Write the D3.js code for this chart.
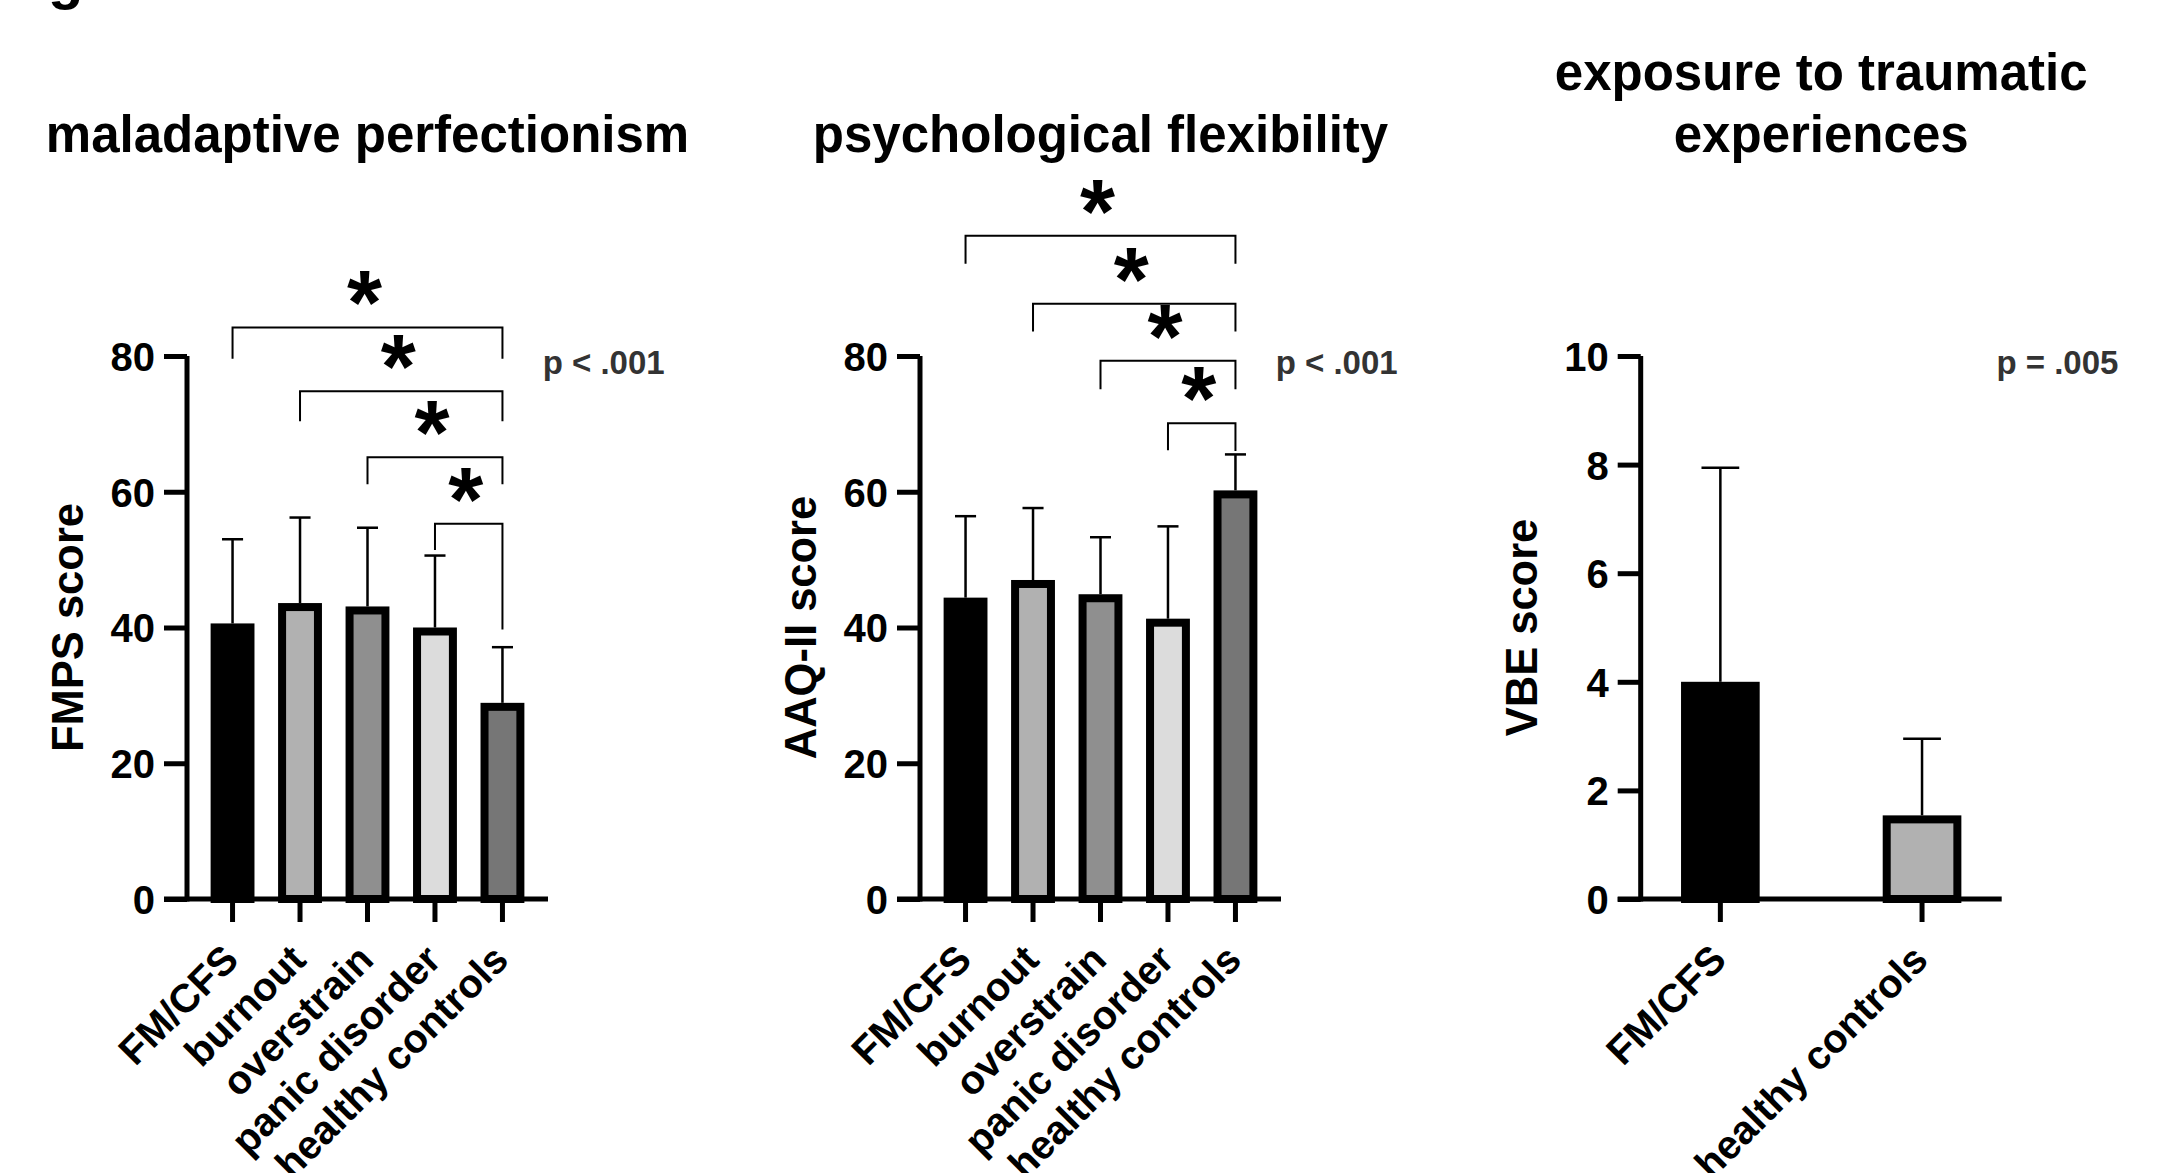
<!DOCTYPE html>
<html>
<head>
<meta charset="utf-8">
<script src="https://cdn.jsdelivr.net/npm/d3@7"></script>
<style>
  body { margin: 0; background: #fff; }
  svg { display: block; background: #fff; }
  text { font-family: "Liberation Sans", Arial, Helvetica, sans-serif; font-weight: bold; }
</style>
</head>
<body>
<svg id="chart" width="2166" height="1173"></svg>
<script>
//Group names
var groups5 = ["FM/CFS", "burnout", "overstrain", "panic disorder", "healthy controls"];
var groups2 = ["FM/CFS", "healthy controls"];

//Maladaptive perfectionism (FMPS), mean and SD
var fmpsMean = [40.6, 43.6, 43.1, 40.0, 28.9];
var fmpsSD = [12.4, 12.6, 11.6, 10.6, 8.2];
var fmpsTicks = [0, 20, 40, 60, 80];
//Significance brackets: pair, level, where each leg ends
var fmpsPairs = [[0, 4], [1, 4], [2, 4], [3, 4]];
var fmpsLevels = [84.2, 74.8, 65.1, 55.3];
var fmpsLegEnds = [[79.6, 79.6], [70.4, 70.4], [61.1, 61.1], [51.4, 39.7]];

//Psychological flexibility (AAQ-II)
var aaqMean = [44.4, 47.0, 44.9, 41.3, 60.2];
var aaqSD = [12.0, 10.6, 8.4, 13.6, 5.3];
var aaqTicks = [0, 20, 40, 60, 80];
var aaqPairs = [[0, 4], [1, 4], [2, 4], [3, 4]];
var aaqLevels = [97.7, 87.7, 79.3, 70.1];
var aaqLegEnds = [[93.6, 93.6], [83.6, 83.6], [75.1, 75.1], [66.1, 66.0]];

//Exposure to traumatic experiences (VBE)
var vbeMean = [4.0, 1.54];
var vbeSD = [3.94, 1.41];
var vbeTicks = [0, 2, 4, 6, 8, 10];

//Bar fills
var fills5 = ["#000000", "#b1b1b1", "#8f8f8f", "#dcdcdc", "#767676"];
var fills2 = ["#000000", "#b1b1b1"];

//Layout
var y0 = 899, yTop = 356, plotW = 361;
var lineW = 5, barStroke = 8;

var svg = d3.select("#chart");

//cropped panel letter at the very top
svg.append("text").attr("x", 48).attr("y", -2).attr("font-size", 58).text("g");

var panels = [
    {left: 187, title: ["maladaptive perfectionism"], yLabel: "FMPS score", groups: groups5,
     mean: fmpsMean, sd: fmpsSD, ticks: fmpsTicks, yMax: 80, fills: fills5, padIn: 0.35, padOut: 0.35,
     pairs: fmpsPairs, levels: fmpsLevels, legs: fmpsLegEnds, p: "p < .001"},
    {left: 920, title: ["psychological flexibility"], yLabel: "AAQ-II score", groups: groups5,
     mean: aaqMean, sd: aaqSD, ticks: aaqTicks, yMax: 80, fills: fills5, padIn: 0.35, padOut: 0.35,
     pairs: aaqPairs, levels: aaqLevels, legs: aaqLegEnds, p: "p < .001"},
    {left: 1640.7, title: ["exposure to traumatic", "experiences"], yLabel: "VBE score", groups: groups2,
     mean: vbeMean, sd: vbeSD, ticks: vbeTicks, yMax: 10, fills: fills2, padIn: 0.61, padOut: 0.2,
     pairs: [], levels: [], legs: [], p: "p = .005"}
];

panels.forEach(function(cfg){
    var g = svg.append("g");
    var x = d3.scaleBand().domain(cfg.groups)
        .range([cfg.left, cfg.left + plotW])
        .paddingInner(cfg.padIn).paddingOuter(cfg.padOut);
    var y = d3.scaleLinear().domain([0, cfg.yMax]).range([y0, yTop]);
    var bw = x.bandwidth();
    var cx = function(i){ return x(cfg.groups[i]) + bw / 2; };

    //Title (one or two lines, last line sits on the common baseline)
    var t = g.append("text")
        .attr("text-anchor", "middle")
        .attr("font-size", 51)
        .attr("x", cfg.left + plotW / 2)
        .attr("y", 152 - (cfg.title.length - 1) * 62);
    cfg.title.forEach(function(line, i){
        t.append("tspan").attr("x", cfg.left + plotW / 2).attr("dy", i ? 62 : 0).text(line);
    });

    //Bars
    g.selectAll("rect.bar").data(cfg.mean).enter().append("rect")
        .attr("class", "bar")
        .attr("x", function(d, i){ return x(cfg.groups[i]) + barStroke / 2; })
        .attr("y", function(d){ return y(d) + barStroke / 2; })
        .attr("width", bw - barStroke)
        .attr("height", function(d){ return y0 - y(d) - barStroke / 2; })
        .attr("fill", function(d, i){ return cfg.fills[i]; })
        .attr("stroke", "#000")
        .attr("stroke-width", barStroke);

    //Error bars (upper only)
    var capW = bw * 0.48;
    cfg.mean.forEach(function(m, i){
        var top = y(m + cfg.sd[i]);
        g.append("line").attr("x1", cx(i)).attr("x2", cx(i))
            .attr("y1", y(m)).attr("y2", top)
            .attr("stroke", "#000").attr("stroke-width", 2.5);
        g.append("line").attr("x1", cx(i) - capW / 2).attr("x2", cx(i) + capW / 2)
            .attr("y1", top).attr("y2", top)
            .attr("stroke", "#000").attr("stroke-width", 2.5);
    });

    //Y axis
    var yAxis = g.append("g")
        .attr("transform", "translate(" + cfg.left + ",0)")
        .call(d3.axisLeft(y).tickValues(cfg.ticks).tickSize(23).tickPadding(9).tickSizeOuter(0));
    yAxis.select(".domain").remove();
    yAxis.selectAll(".tick line").attr("stroke", "#000").attr("stroke-width", lineW);
    yAxis.selectAll(".tick text")
        .attr("fill", "#000").attr("font-size", 40).attr("dy", "0.36em");
    g.append("line")
        .attr("x1", cfg.left).attr("x2", cfg.left)
        .attr("y1", y(cfg.yMax)).attr("y2", y0 + lineW / 2)
        .attr("stroke", "#000").attr("stroke-width", lineW);

    //X axis
    var xAxis = g.append("g")
        .attr("transform", "translate(0," + y0 + ")")
        .call(d3.axisBottom(x).tickSize(23).tickSizeOuter(0));
    xAxis.select(".domain").remove();
    xAxis.selectAll(".tick line").attr("stroke", "#000").attr("stroke-width", lineW);
    xAxis.selectAll(".tick text")
        .attr("fill", "#000").attr("font-size", 40)
        .attr("x", null).attr("y", null).attr("dy", null)
        .attr("text-anchor", "end")
        .attr("transform", "translate(8,63) rotate(-45)");
    g.append("line")
        .attr("x1", cfg.left - 23).attr("x2", x.range()[1])
        .attr("y1", y0).attr("y2", y0)
        .attr("stroke", "#000").attr("stroke-width", lineW);

    //Y axis title
    g.append("text")
        .attr("text-anchor", "middle")
        .attr("font-size", 43.5)
        .attr("transform", "translate(" + (cfg.left - 104) + "," + (y0 + yTop) / 2 + ") rotate(-90)")
        .text(cfg.yLabel);

    //p value
    g.append("text")
        .attr("x", cfg.left + 355.7).attr("y", 374)
        .attr("font-size", 33).attr("fill", "#333")
        .text(cfg.p);

    //Significance brackets with stars
    cfg.pairs.forEach(function(pair, i){
        var xa = cx(pair[0]), xb = cx(pair[1]), ly = y(cfg.levels[i]);
        g.append("path")
            .attr("d", "M" + xa + "," + y(cfg.legs[i][0]) + "V" + ly + "H" + xb + "V" + y(cfg.legs[i][1]))
            .attr("fill", "none").attr("stroke", "#000").attr("stroke-width", 2);
        g.append("text")
            .attr("text-anchor", "middle")
            .attr("font-size", 90)
            .attr("x", (xa + xb) / 2 - 3)
            .attr("y", ly - 43 + 50)
            .text("*");
    });
});
</script>
</body>
</html>
